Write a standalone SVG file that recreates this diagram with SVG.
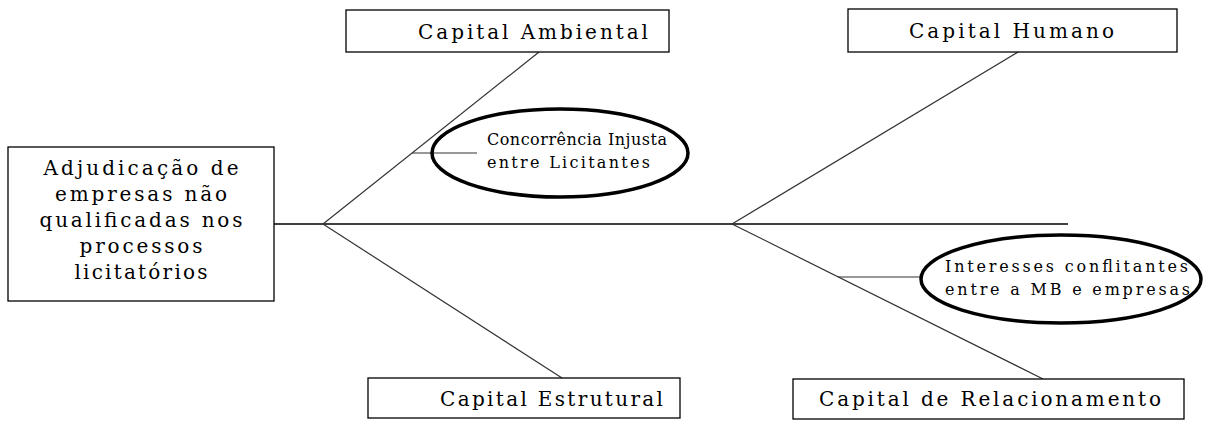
<svg xmlns="http://www.w3.org/2000/svg" width="1215" height="421" viewBox="0 0 1215 421">
<style>
.box{fill:#fff;stroke:#000;stroke-width:1.3}
.ell{fill:none;stroke:#000;stroke-width:3.5}
.t{font-family:"DejaVu Serif","Liberation Serif",serif;font-size:20px;fill:#000}
.s{font-family:"DejaVu Serif","Liberation Serif",serif;font-size:16px;fill:#000}
.ln{stroke:#333;stroke-width:1.2;fill:none}
.main{stroke:#000;stroke-width:1.6;fill:none}
</style>
<rect width="1215" height="421" fill="#fff"/>
<g id="connectors">
<line class="main" x1="274" y1="224" x2="1068" y2="224"/>
<line class="ln" x1="323" y1="224" x2="539" y2="52"/>
<line class="ln" x1="323" y1="224" x2="562" y2="378"/>
<line class="ln" x1="732" y1="224" x2="1018" y2="52"/>
<line class="ln" x1="732" y1="224" x2="1043" y2="379"/>
<line class="ln" x1="412" y1="153" x2="477" y2="153"/>
<line class="ln" x1="838" y1="277" x2="922" y2="277"/>
</g>
<g id="problem">
<rect class="box" x="8" y="147" width="266" height="154"/>
<text class="t" x="141" y="175" text-anchor="middle" textLength="195" lengthAdjust="spacing">Adjudicação de</text>
<text class="t" x="141" y="201" text-anchor="middle" textLength="172" lengthAdjust="spacing">empresas não</text>
<text class="t" x="141" y="227" text-anchor="middle" textLength="203" lengthAdjust="spacing">qualificadas nos</text>
<text class="t" x="141" y="253" text-anchor="middle" textLength="123" lengthAdjust="spacing">processos</text>
<text class="t" x="141" y="279" text-anchor="middle" textLength="133" lengthAdjust="spacing">licitatórios</text>
</g>
<g id="capital-ambiental">
<rect class="box" x="346" y="10" width="323" height="42"/>
<text class="t" x="418" y="39" textLength="230" lengthAdjust="spacing">Capital Ambiental</text>
</g>
<g id="capital-humano">
<rect class="box" x="848" y="9" width="329" height="43"/>
<text class="t" x="909" y="38" textLength="205" lengthAdjust="spacing">Capital Humano</text>
</g>
<g id="capital-estrutural">
<rect class="box" x="368" y="378" width="312" height="40"/>
<text class="t" x="440" y="406" textLength="223" lengthAdjust="spacing">Capital Estrutural</text>
</g>
<g id="capital-relacionamento">
<rect class="box" x="793" y="379" width="391" height="40"/>
<text class="t" x="819" y="406" textLength="342" lengthAdjust="spacing">Capital de Relacionamento</text>
</g>
<g id="concorrencia">
<ellipse class="ell" cx="560" cy="153" rx="128" ry="44"/>
<text class="s" x="487" y="145" textLength="180" lengthAdjust="spacing">Concorrência Injusta</text>
<text class="s" x="487" y="168" textLength="163" lengthAdjust="spacing">entre Licitantes</text>
</g>
<g id="interesses">
<ellipse class="ell" cx="1061" cy="279" rx="140" ry="44"/>
<text class="s" x="945" y="272" textLength="243" lengthAdjust="spacing">Interesses conflitantes</text>
<text class="s" x="945" y="295" textLength="245" lengthAdjust="spacing">entre a MB e empresas</text>
</g>
</svg>
